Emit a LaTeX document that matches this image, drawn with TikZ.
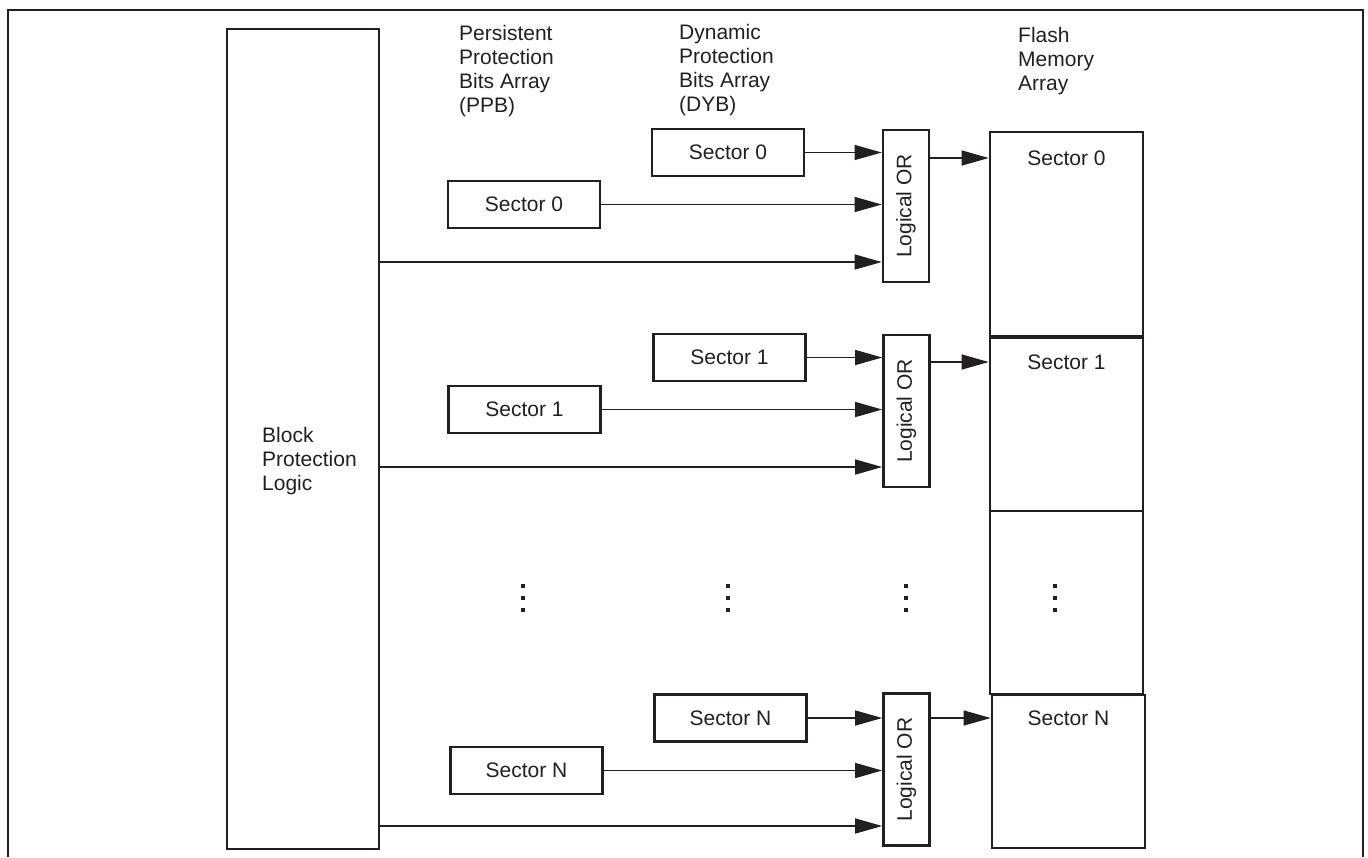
\documentclass[tikz,border=0pt]{standalone}
\usepackage{fontspec}
\setmainfont{Liberation Sans}
\usetikzlibrary{arrows.meta}
\definecolor{ink}{HTML}{231F20}
\tikzset{
  txt/.style={text=ink, inner sep=0pt, font=\fontsize{21pt}{24pt}\selectfont},
  box/.style={txt, draw=ink, line width=2.6pt},
  sbox/.style={box, minimum width=152pt, minimum height=47pt},
  orbox/.style={box, minimum width=46pt, minimum height=152pt},
  lbl/.style={txt, align=left, anchor=north west},
  conn/.style={draw=ink, line width=1.3pt, -{Triangle[length=27pt,width=15pt]}},
  dotsq/.style={fill=ink, minimum size=4.5pt, inner sep=0pt},
}
\begin{document}
\begin{tikzpicture}[x=1pt,y=-1pt]
\useasboundingbox (0,0) rectangle (1368,857);
% outer frame
\draw[draw=ink, line width=2.6pt] (8,857) -- (8,10) -- (1363,10) -- (1363,857);

% column labels
\node[lbl] (ppblbl) at (459,25) {Persistent\\Protection\\Bits Array\\(PPB)};
\node[lbl] (dyblbl) at (679,24) {Dynamic\\Protection\\Bits Array\\(DYB)};
\node[lbl] (fllbl) at (1018,27) {Flash\\Memory\\Array};

% block protection logic
\node[box, minimum width=152pt, minimum height=820pt] (block) at (303,439) {};
\node[lbl] (blocklbl) at (262,427) {Block\\Protection\\Logic};

% flash memory array
\node[box, minimum width=153pt, minimum height=204pt] (fl0) at (1066.5,234) {};
\node[box, minimum width=153pt, minimum height=173pt] (fl1) at (1066.5,424.5) {};
\node[box, minimum width=153pt, minimum height=183pt] (fld) at (1066.5,602.5) {};
\node[box, minimum width=153pt, minimum height=153pt] (flN) at (1068.5,771.5) {};
\node[txt] (fl0t) at (1066.5,158) {Sector 0};
\node[txt] (fl1t) at (1066.5,362) {Sector 1};
\node[txt] (flNt) at (1068.5,718) {Sector N};

% group 0
\node[sbox] (dyb0) at (728,152.5) {Sector 0};
\node[sbox] (ppb0) at (524,204.5) {Sector 0};
\node[orbox] (or0) at (906,206) {\rotatebox{90}{Logical OR}};
% group 1
\node[sbox] (dyb1) at (729.5,357.5) {Sector 1};
\node[sbox] (ppb1) at (524.5,409.5) {Sector 1};
\node[orbox] (or1) at (906.5,411) {\rotatebox{90}{Logical OR}};
% group N
\node[sbox] (dybN) at (730.5,718) {Sector N};
\node[sbox] (ppbN) at (526.5,770.5) {Sector N};
\node[orbox] (orN) at (906.5,769.5) {\rotatebox{90}{Logical OR}};

% block outputs
\coordinate (ba0) at (379,262);
\coordinate (ba1) at (379,467);
\coordinate (baN) at (379,826);

\foreach \g in {0,1,N}{
  \draw[conn] (dyb\g.east) -- (dyb\g.east -| or\g.west);
  \draw[conn] (ppb\g.east) -- (ppb\g.east -| or\g.west);
  \draw[conn] (ba\g) -- (ba\g -| or\g.west);
  \draw[conn] (or\g.east |- fl\g t) -- (fl\g.west |- fl\g t);
}

% ellipsis dots
\foreach \x [count=\i] in {523,728,906,1055}{
  \foreach \y [count=\j] in {586,598,610}{
    \node[dotsq] (dot\i\j) at (\x,\y) {};
  }
}
\end{tikzpicture}
\end{document}
